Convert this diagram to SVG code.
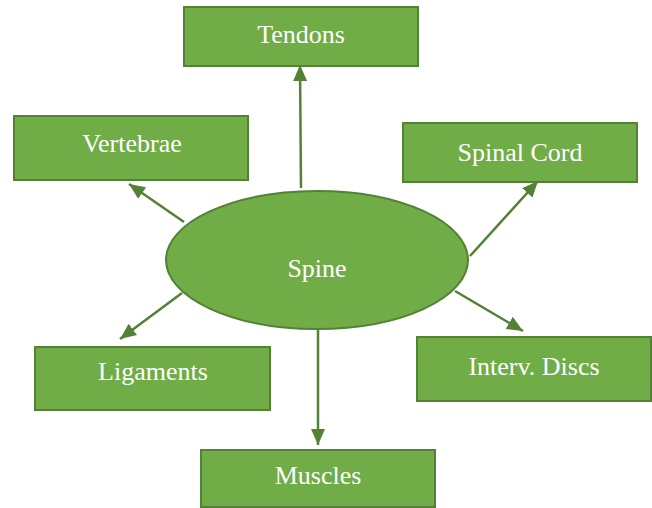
<svg xmlns="http://www.w3.org/2000/svg" width="652" height="508" viewBox="0 0 652 508">
<style>
.node{fill:#70AD47;stroke:#538135;stroke-width:2}
.lbl{font-family:"Liberation Serif","Times New Roman",serif;font-size:26px;fill:#FFFFFF;text-anchor:middle}
.conn{stroke:#538135;stroke-width:2.5;fill:none;marker-end:url(#ah)}
</style>
<defs>
<marker id="ah" markerUnits="userSpaceOnUse" markerWidth="16" markerHeight="16" viewBox="0 0 16 16" refX="16" refY="8" orient="auto">
<path d="M0,1 L16,8 L0,15 Z" fill="#538135"/>
</marker>
</defs>
<rect width="652" height="508" fill="#FFFFFF"/>
<g id="connectors">
<line class="conn" x1="301" y1="188" x2="300" y2="65"/>
<line class="conn" x1="184" y1="222" x2="129" y2="184"/>
<line class="conn" x1="470" y1="256" x2="538" y2="181"/>
<line class="conn" x1="182" y1="293" x2="120" y2="339"/>
<line class="conn" x1="318" y1="330" x2="318" y2="445"/>
<line class="conn" x1="455" y1="291" x2="523" y2="331"/>
</g>
<g id="spine">
<ellipse class="node" cx="317" cy="260" rx="151" ry="69"/>
<text class="lbl" x="317" y="277">Spine</text>
</g>
<g id="tendons">
<rect class="node" x="184" y="7" width="234" height="59"/>
<text class="lbl" x="301" y="43">Tendons</text>
</g>
<g id="vertebrae">
<rect class="node" x="14" y="116" width="234" height="64"/>
<text class="lbl" x="132" y="152">Vertebrae</text>
</g>
<g id="spinal-cord">
<rect class="node" x="403" y="123" width="234" height="59"/>
<text class="lbl" x="520" y="161">Spinal Cord</text>
</g>
<g id="ligaments">
<rect class="node" x="35" y="347" width="235" height="63"/>
<text class="lbl" x="153" y="380">Ligaments</text>
</g>
<g id="interv-discs">
<rect class="node" x="417" y="337" width="234" height="64"/>
<text class="lbl" x="534" y="375">Interv. Discs</text>
</g>
<g id="muscles">
<rect class="node" x="201" y="450" width="234" height="57"/>
<text class="lbl" x="318" y="484">Muscles</text>
</g>
</svg>
